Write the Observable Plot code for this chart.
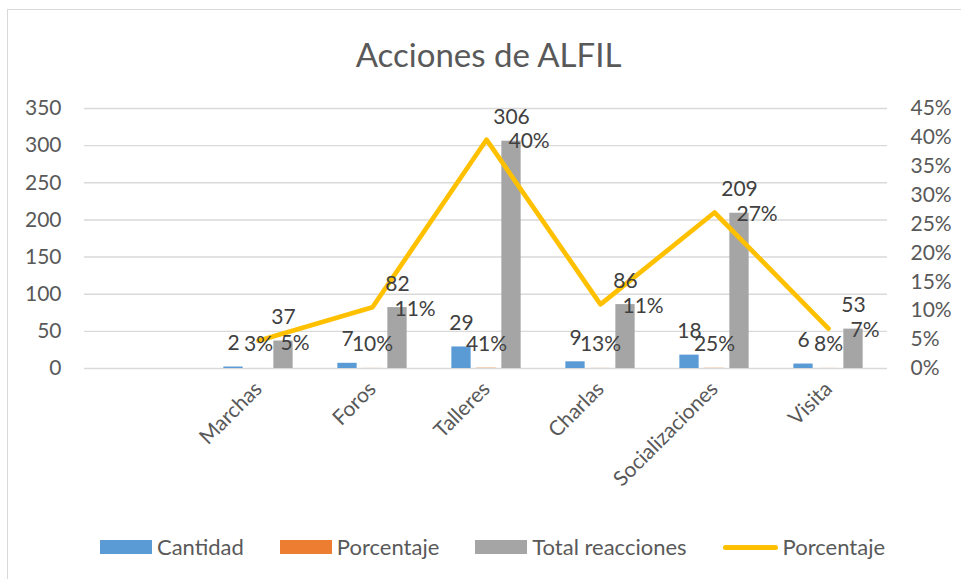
<!DOCTYPE html>
<html><head><meta charset="utf-8">
<script src="https://cdn.jsdelivr.net/npm/d3@7"></script>
<script src="https://cdn.jsdelivr.net/npm/@observablehq/plot@0.6"></script>
<style>
body{margin:0;background:#fff;font-family:Lato,"Open Sans",sans-serif;overflow:hidden}
#chart{position:relative;width:961px;height:579px;overflow:hidden;background:#fff}
#frame{position:absolute;left:7px;top:9px;width:1000px;height:1000px;border:1.5px solid #d9d9d9;box-sizing:border-box}
#title{position:absolute;top:38px;left:0;width:977px;text-align:center;font-size:33px;line-height:33px;color:#595959}
#plot{position:absolute;left:0;top:90px}
#legend{position:absolute;top:536px;left:0;width:985px;display:flex;justify-content:center;align-items:center;gap:36px;font-size:22px;line-height:22px;color:#595959}
.item{display:flex;align-items:center;gap:5px;white-space:nowrap}
.sw{width:52px;height:14px}
.ln{width:55px;height:5px;border-radius:3px;background:#FFC000}
</style></head>
<body>
<div id="chart">
  <div id="frame"></div>
  <div id="title">Acciones de ALFIL</div>
  <div id="plot"></div>
  <div id="legend"></div>
</div>
<script>
// ---- data ----
const categories = ["Marchas","Foros","Talleres","Charlas","Socializaciones","Visita"];
const cantidad = [2,7,29,9,18,6];
const porcentajeCantidad = [0.028,0.099,0.408,0.127,0.254,0.084];
const totalReacciones = [37,82,306,86,209,53];
const porcentajeReacciones = [0.048,0.106,0.396,0.111,0.270,0.069];
const xDomain = ["", ...categories];
const leftTicks = [0,50,100,150,200,250,300,350];
const rightTicks = [0,0.05,0.10,0.15,0.20,0.25,0.30,0.35,0.40,0.45];
const seriesNames = ["Cantidad","Porcentaje","Total reacciones","Porcentaje"];
const colors = ["#5B9BD5","#ED7D31","#A5A5A5","#FFC000"];

// ---- build ----
const k = 350/0.45; // right axis -> left axis
const pct = d3.format(".0%");
const rows = categories.map((c,i)=>({c, cantidad:cantidad[i], pc:porcentajeCantidad[i], total:totalReacciones[i], pr:porcentajeReacciones[i]}));

const W = 961, H = 430, ML = 84, MR = 74;
const bandW = (W-ML-MR)/xDomain.length;
const inset = (bandW-20)/2;
const off = 25;
const labelFill = "#404040";

const chart = Plot.plot({
  width: W, height: H,
  marginLeft: ML, marginRight: MR, marginTop: 18, marginBottom: 152,
  style: {fontFamily: "Lato, 'Open Sans', sans-serif", fontSize: "21px", color: "#595959", background: "transparent"},
  x: {domain: xDomain, padding: 0, axis: null},
  y: {domain: [0,350], axis: null},
  marks: [
    Plot.ruleY(leftTicks, {stroke:"#d9d9d9", strokeWidth:1.4}),
    Plot.barY(rows, {x:"c", y:"cantidad", fill:colors[0], insetLeft:inset, insetRight:inset, dx:-off}),
    Plot.barY(rows, {x:"c", y:"pc", fill:colors[1], insetLeft:inset, insetRight:inset}),
    Plot.barY(rows, {x:"c", y:"total", fill:colors[2], insetLeft:inset, insetRight:inset, dx:off}),
    Plot.lineY(rows, {x:"c", y:d=>d.pr*k, stroke:colors[3], strokeWidth:4.7, strokeLinejoin:"round", strokeLinecap:"round"}),
    Plot.text(rows, {x:"c", y:"cantidad", text:d=>String(d.cantidad), dx:-off, dy:-17, lineAnchor:"bottom", fill:labelFill}),
    Plot.text(rows, {x:"c", y:"pc", text:d=>pct(d.pc), dy:-17, lineAnchor:"bottom", fill:labelFill}),
    Plot.text(rows, {x:"c", y:"total", text:d=>String(d.total), dx:off, dy:-17, lineAnchor:"bottom", fill:labelFill}),
    Plot.text(rows, {x:"c", y:d=>d.pr*k, text:d=>pct(d.pr), textAnchor:"start", dx:22, dy:2, fill:labelFill}),
    Plot.axisY(leftTicks, {anchor:"left", tickSize:0, tickPadding:23}),
    Plot.axisY(rightTicks.map(p=>p*k), {anchor:"right", tickSize:0, tickPadding:23, tickFormat:v=>pct(v/k)}),
    Plot.axisX({tickRotate:-45, tickSize:0, tickPadding:17, label:null})
  ]
});
document.getElementById("plot").appendChild(chart);

// legend
const lg = document.getElementById("legend");
seriesNames.forEach((n,i)=>{
  const it = document.createElement("div"); it.className="item";
  const sw = document.createElement("div");
  if (i===3) { sw.className="ln"; } else { sw.className="sw"; sw.style.background=colors[i]; }
  const t = document.createElement("span"); t.textContent=n;
  it.appendChild(sw); it.appendChild(t); lg.appendChild(it);
});
</script>
</body></html>
